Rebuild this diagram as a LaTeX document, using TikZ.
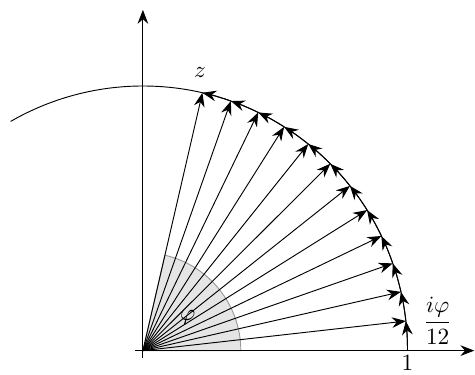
\documentclass[tikz,border=0pt]{standalone}
\usepackage{amsmath,amssymb}
\usepackage{tikz}
\usetikzlibrary{positioning,arrows.meta}

\begin{document}
\begin{tikzpicture}[ar/.style={-{Stealth[length=6pt,width=4.6pt,inset=2pt]}},
                    sector/.style={fill=black!10,draw=black!40}]
  \useasboundingbox (-2.16,-0.36) rectangle (5.02,5.30);
  \def\phiang{77}
  \coordinate (O) at (0,0);
  \foreach \i in {0,...,12} \coordinate (p\i) at ({\i*\phiang/12}:4);
  % shaded angle
  \filldraw[sector] (O) -- (1.48,0) arc[start angle=0,end angle=\phiang,radius=1.48] -- cycle;
  \node (phi) at (36:0.84) {$\varphi$};
  % axes
  \coordinate (xl) at (-0.12,0); \coordinate (xr) at (5.01,0);
  \coordinate (yb) at (0,-0.11); \coordinate (yt) at (0,5.15);
  \draw[ar] (xl) -- (xr);
  \draw[ar] (yb) -- (yt);
  % unit circle
  \draw (p0) arc[start angle=0,end angle=120,radius=4];
  \foreach \i in {1,...,12} {
    \pgfmathtruncatemacro\prev{\i-1}
    \draw[ar] (O) -- (p\i);
    \draw[ar] (p\prev) arc[start angle={\prev*\phiang/12},end angle={\i*\phiang/12},radius=4];
  }
  \node[below=-1.5pt of p0] (one) {$1$};
  \node[right=0.14cm of p1] (step) {$\dfrac{i\varphi}{12}$};
  \node[above=0.1cm of p12, xshift=-1pt] (z) {$z$};
\end{tikzpicture}
\end{document}
